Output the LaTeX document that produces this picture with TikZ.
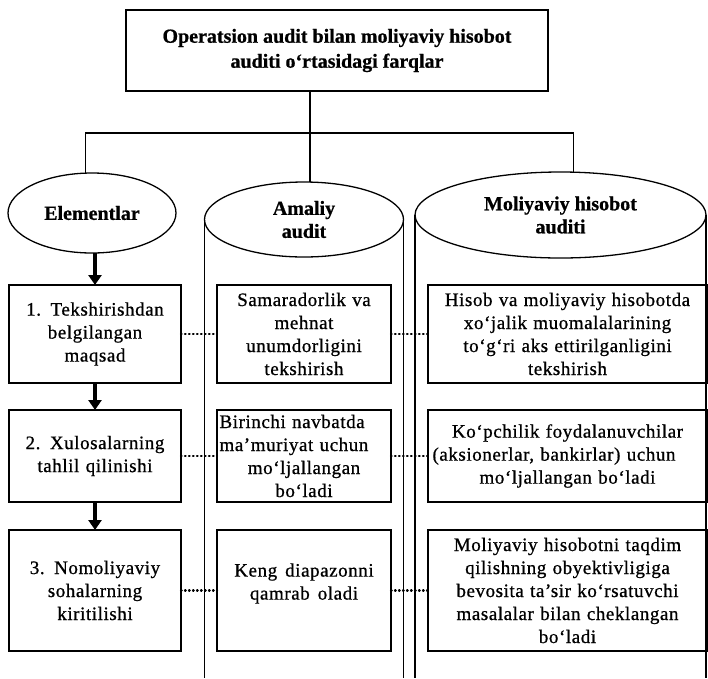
\documentclass[tikz,border=0pt]{standalone}
\usepackage{fontspec}
\setmainfont{Liberation Serif}
\newfontfamily\bodyfont[LetterSpace=3,WordSpace=1.5,FakeBold=0.8]{Liberation Serif}
\newfontfamily\headfont[FakeBold=0.8]{Liberation Serif}
\usetikzlibrary{shapes.geometric,arrows.meta}
\begin{document}
\begin{tikzpicture}[x=1pt,y=-1pt,
  every node/.style={inner sep=0pt, outer sep=0pt},
  frame/.style={draw, line width=1.3pt},
  titlebox/.style={frame, rectangle, minimum width=422pt, minimum height=81pt,
    font=\headfont\fontsize{20}{25}\selectfont\bfseries, align=center},
  headell/.style={frame, ellipse, font=\headfont\fontsize{20}{23}\selectfont\bfseries, align=center},
  cell/.style={frame, rectangle, font=\bodyfont\fontsize{19}{23}\selectfont, align=center},
  lcell/.style={cell, minimum width=172pt, text width=168pt},
  mcell/.style={cell, minimum width=174pt, text width=172pt},
  rcell/.style={cell, minimum width=279pt, text width=277pt},
  celltext/.style={font=\bodyfont\fontsize{19}{23}\selectfont, align=center},
  flow/.style={line width=3.5pt, -{Triangle[length=10pt,width=13pt]}},
  dotline/.style={line width=2.4pt, line cap=round, dash pattern=on 0.6pt off 3.4pt},
]
\useasboundingbox (0,0) rectangle (708,678);
\coordinate (bar) at (0,133);
\coordinate (bottom) at (0,678);

% title
\node[titlebox] (title) at (337,50.5) {Operatsion audit bilan moliyaviy hisobot\\auditi o‘rtasidagi farqlar};

% heads
\node[headell, minimum width=168pt, minimum height=80pt] (el) at (92,213) {Elementlar};
\node[headell, minimum width=199pt, minimum height=75pt] (am) at (304,219.5) {Amaliy\\audit};
\node[headell, minimum width=291pt, minimum height=86pt] (mo) at (560.5,215) {Moliyaviy hisobot\\auditi};

% tree connectors
\draw[frame] (title.south -| am.81) -- (am.81);
\draw[frame] (el.99) -- (el.99 |- bar) -- (mo.73 |- bar) -- (mo.73);

% column lines
\draw[frame] (am.west) -- (am.west |- bottom);
\draw[frame] (am.east) -- (am.east |- bottom);
\draw[frame] (mo.west) -- (mo.west |- bottom);
\draw[frame] (mo.east) -- (mo.east |- bottom);

% left column
\node[lcell, minimum height=98pt] (l1) at (95,334) {1. Tekshirishdan\\belgilangan\\maqsad};
\node[lcell, minimum height=92pt] (l2) at (95,456) {2. Xulosalarning\\tahlil qilinishi};
\node[lcell, minimum height=121pt] (l3) at (95,590.5) {3. Nomoliyaviy\\sohalarning\\kiritilishi};

% middle column
\node[mcell, minimum height=98pt] (m1) at (304,334) {Samaradorlik va\\mehnat\\unumdorligini\\tekshirish};
\node[mcell, minimum height=92pt] (m2) at (304,456) {\makebox[169pt][s]{Birinchi navbatda}\\\makebox[169pt][s]{ma’muriyat uchun}\\mo‘ljallangan\\bo‘ladi};
\node[mcell, minimum height=121pt] (m3) at (304,590.5) {};
\node[celltext] at ([yshift=7pt]m3.center) {Keng diapazonni\\qamrab oladi};

% right column
\node[rcell, minimum height=98pt] (r1) at (567.5,334) {Hisob va moliyaviy hisobotda\\xo‘jalik muomalalarining\\to‘g‘ri aks ettirilganligini\\tekshirish};
\node[rcell, minimum height=92pt] (r2) at (567.5,456) {Ko‘pchilik foydalanuvchilar\\\makebox[270pt][s]{(aksionerlar, bankirlar) uchun}\\mo‘ljallangan bo‘ladi};
\node[rcell, minimum height=121pt] (r3) at (567.5,590.5) {Moliyaviy hisobotni taqdim\\qilishning obyektivligiga\\bevosita ta’sir ko‘rsatuvchi\\masalalar bilan cheklangan\\bo‘ladi};

% arrows
\draw[flow] (l1.north |- el.south) -- (l1.north);
\draw[flow] (l1.south) -- (l2.north);
\draw[flow] (l2.south) -- (l3.north);

% dotted links
\draw[dotline] (l1.east) -- (m1.west);
\draw[dotline] (m1.east) -- (r1.west);
\draw[dotline] (l2.east) -- (m2.west);
\draw[dotline] (m2.east) -- (r2.west);
\draw[dotline] (l3.east) -- (m3.west);
\draw[dotline] (m3.east) -- (r3.west);
\end{tikzpicture}
\end{document}
